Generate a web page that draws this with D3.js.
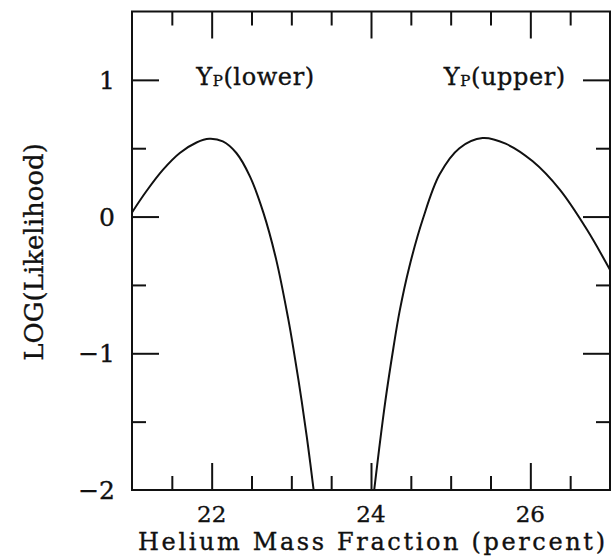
<!DOCTYPE html>
<html>
<head>
<meta charset="utf-8">
<script src="https://cdn.jsdelivr.net/npm/d3@7"></script>
<style>
  html, body { margin: 0; padding: 0; background: #fff; }
  svg { display: block; }
  text { font-family: "DejaVu Serif", "Liberation Serif", serif; fill: #111; stroke: #111; stroke-width: 0.35px; }
</style>
</head>
<body>
<svg id="chart" width="615" height="556"></svg>
<script>
// ---- data ----
const xDomain = [21, 27];
const yDomain = [-2, 1.5];
const xMajorTicks = [22, 24, 26];
const xMinorTicks = [21.5, 22.5, 23, 23.5, 24.5, 25, 25.5, 26.5];
const yMajorTicks = [-1, 0, 1];
const yMinorTicks = [-1.5, -0.5, 0.5];
const xTickLabels = ["22", "24", "26"];
const yLabelTicks = [-2, -1, 0, 1];
const yLabelTexts = ["\u22122", "\u22121", "0", "1"];

const lowerX = [21.0, 21.18, 21.39, 21.60, 21.81, 21.97, 22.14, 22.31, 22.48, 22.65, 22.81, 22.96, 23.03, 23.13, 23.21, 23.28];
const lowerY = [0.03, 0.185, 0.343, 0.465, 0.542, 0.569, 0.55, 0.465, 0.294, 0.027, -0.315, -0.745, -0.98, -1.35, -1.68, -2.0];
const upperX = [24.04, 24.10, 24.18, 24.28, 24.36, 24.48, 24.65, 24.86, 25.11, 25.40, 25.69, 26.03, 26.37, 26.71, 27.0];
const upperY = [-2.0, -1.71, -1.35, -0.965, -0.69, -0.37, -0.02, 0.307, 0.50, 0.574, 0.533, 0.404, 0.197, -0.095, -0.39];

const curveLabels = [
  { x: 22.55, y: 1.0, main: "Y", sub: "P", rest: "(lower)" },
  { x: 25.68, y: 1.0, main: "Y", sub: "P", rest: "(upper)" }
];

// ---- layout ----
const mLeft = 132, mRight = 610, mTop = 11.5, mBottom = 490;
const majorLen = 27, minorLen = 14;

const svg = d3.select("#chart");
const x = d3.scaleLinear().domain(xDomain).range([mLeft, mRight]);
const y = d3.scaleLinear().domain(yDomain).range([mBottom, mTop]);

svg.append("defs").append("clipPath").attr("id", "plotclip")
  .append("rect").attr("x", mLeft).attr("y", mTop).attr("width", mRight - mLeft).attr("height", mBottom - mTop);

function drawAxis(gen, tx, ty) {
  const g = svg.append("g").attr("transform", `translate(${tx},${ty})`).call(gen);
  g.selectAll("text").remove();
  g.select(".domain").remove();
  g.selectAll("line").attr("stroke", "#111").attr("stroke-width", 2);
  return g;
}
drawAxis(d3.axisTop(x).tickValues(xMajorTicks).tickSize(majorLen), 0, mBottom);
drawAxis(d3.axisTop(x).tickValues(xMinorTicks).tickSize(minorLen), 0, mBottom);
drawAxis(d3.axisBottom(x).tickValues(xMajorTicks).tickSize(majorLen), 0, mTop);
drawAxis(d3.axisBottom(x).tickValues(xMinorTicks).tickSize(minorLen), 0, mTop);
drawAxis(d3.axisRight(y).tickValues(yMajorTicks).tickSize(majorLen), mLeft, 0);
drawAxis(d3.axisRight(y).tickValues(yMinorTicks).tickSize(minorLen), mLeft, 0);
drawAxis(d3.axisLeft(y).tickValues(yMajorTicks).tickSize(majorLen), mRight, 0);
drawAxis(d3.axisLeft(y).tickValues(yMinorTicks).tickSize(minorLen), mRight, 0);

svg.append("rect").attr("x", mLeft).attr("y", mTop).attr("width", mRight - mLeft).attr("height", mBottom - mTop)
  .attr("fill", "none").attr("stroke", "#111").attr("stroke-width", 2);

svg.append("g").selectAll("text").data(xMajorTicks).join("text")
  .attr("x", d => x(d)).attr("y", 522)
  .attr("text-anchor", "middle").attr("font-size", 23)
  .text((d, i) => xTickLabels[i]);

svg.append("g").selectAll("text").data(yLabelTicks).join("text")
  .attr("x", 115).attr("y", d => y(d) + 9)
  .attr("text-anchor", "end").attr("font-size", 25)
  .text((d, i) => yLabelTexts[i]);

svg.append("text").attr("x", 371.5).attr("y", 550).attr("text-anchor", "middle")
  .attr("font-size", 24).attr("textLength", 467).attr("lengthAdjust", "spacing")
  .text("Helium Mass Fraction (percent)");

svg.append("text").attr("transform", "translate(43,252) rotate(-90)").attr("text-anchor", "middle")
  .attr("font-size", 26)
  .text("LOG(Likelihood)");

const line = d3.line().x(d => x(d[0])).y(d => y(d[1])).curve(d3.curveCatmullRom.alpha(0.5));
const plot = svg.append("g").attr("clip-path", "url(#plotclip)");
plot.append("path").datum(d3.zip(lowerX, lowerY)).attr("d", line)
  .attr("fill", "none").attr("stroke", "#111").attr("stroke-width", 2);
plot.append("path").datum(d3.zip(upperX, upperY)).attr("d", line)
  .attr("fill", "none").attr("stroke", "#111").attr("stroke-width", 2);

curveLabels.forEach(l => {
  const t = svg.append("text").attr("x", x(l.x)).attr("y", y(l.y) + 5)
    .attr("text-anchor", "middle").attr("font-size", 24).attr("letter-spacing", 0.6);
  t.append("tspan").text(l.main);
  t.append("tspan").attr("font-size", 15).attr("dy", 1).text(l.sub);
  t.append("tspan").attr("dy", -1).text(l.rest);
});
</script>
</body>
</html>
